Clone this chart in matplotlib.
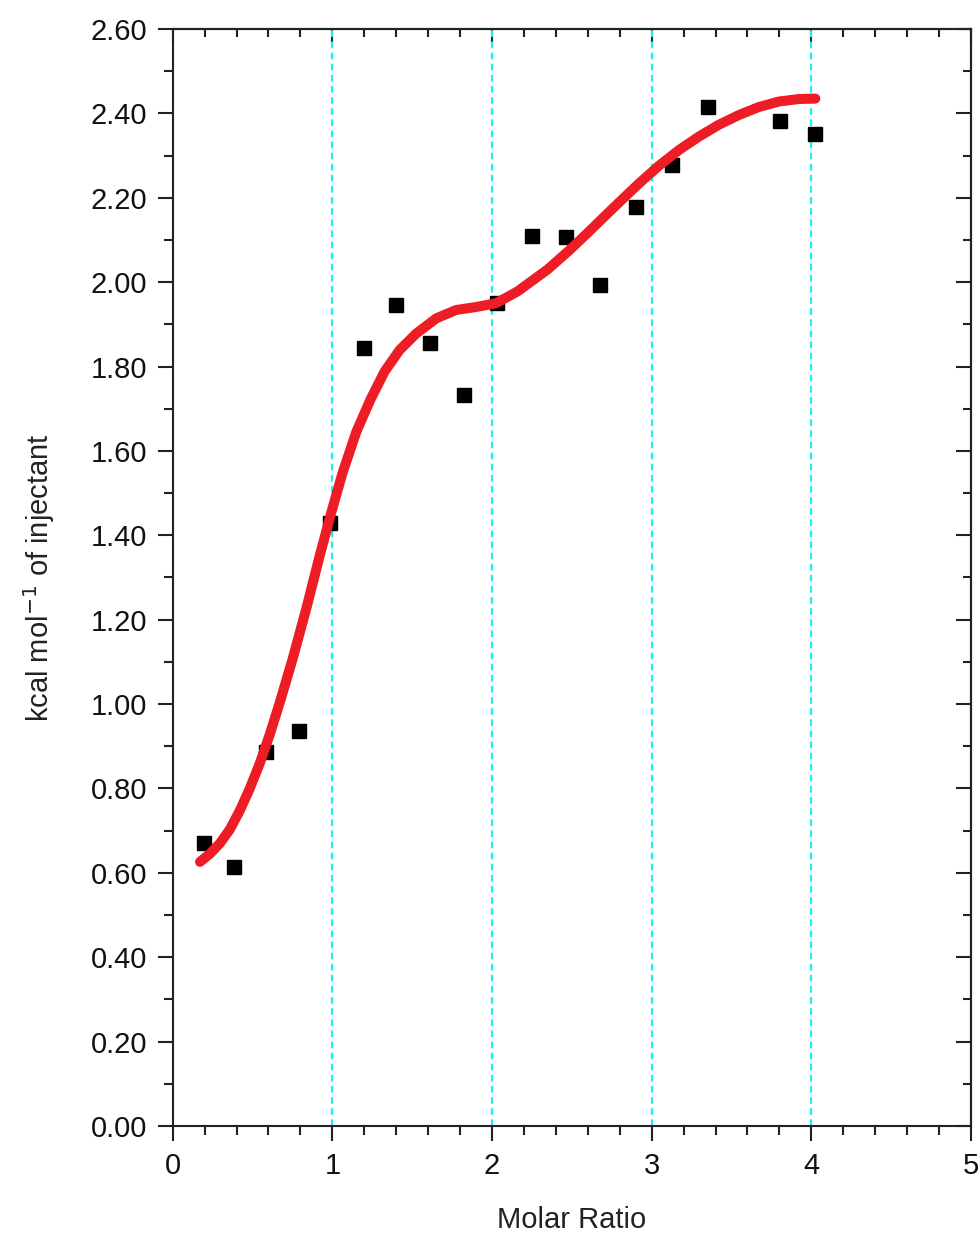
import matplotlib
matplotlib.use('Agg')
import matplotlib.pyplot as plt
from matplotlib.ticker import MultipleLocator, FormatStrFormatter

plt.rcParams['font.family'] = ['Liberation Sans', 'DejaVu Sans']

# Measured injection points
molar_ratio = [0.196, 0.383, 0.583, 0.789, 0.988, 1.196, 1.400, 1.612, 1.823,
               2.033, 2.248, 2.462, 2.675, 2.900, 3.129, 3.350, 3.802, 4.025]
heat = [0.671, 0.614, 0.886, 0.936, 1.430, 1.844, 1.945, 1.855, 1.732,
        1.950, 2.109, 2.107, 1.994, 2.178, 2.277, 2.414, 2.382, 2.350]

# Fitted curve
fit_x = [0.171, 0.233, 0.296, 0.358, 0.421, 0.483, 0.546, 0.608, 0.671, 0.752,
         0.838, 0.921, 0.994, 1.064, 1.150, 1.239, 1.327, 1.421, 1.525, 1.650,
         1.775, 1.900, 2.025, 2.160, 2.348, 2.483, 2.608, 2.700, 2.796, 2.921,
         3.046, 3.171, 3.296, 3.421, 3.546, 3.671, 3.796, 3.921, 4.025]
fit_y = [0.626, 0.645, 0.670, 0.703, 0.748, 0.800, 0.860, 0.928, 1.004, 1.108,
         1.228, 1.352, 1.455, 1.548, 1.645, 1.722, 1.788, 1.839, 1.878, 1.914,
         1.934, 1.941, 1.950, 1.978, 2.030, 2.075, 2.120, 2.154, 2.189, 2.234,
         2.276, 2.313, 2.345, 2.373, 2.396, 2.415, 2.428, 2.434, 2.435]

grid_x = [1, 2, 3, 4]

fig = plt.figure(figsize=(9.79, 12.33), dpi=100)
ax = fig.add_axes([0.1764, 0.0868, 0.8154, 0.8897])

for gx in grid_x:
    ax.axvline(gx, color='#1EF0F0', linestyle=(0, (3, 2)), linewidth=1.6, zorder=1)

ax.plot(molar_ratio, heat, linestyle='none', marker='s', markersize=10.5,
        color='black', zorder=2)
ax.plot(fit_x, fit_y, color='#EE1C25', linewidth=7.2, solid_capstyle='round',
        solid_joinstyle='round', zorder=3)

ax.set_xlim(0, 5)
ax.set_ylim(0, 2.6)
ax.xaxis.set_major_locator(MultipleLocator(1))
ax.xaxis.set_minor_locator(MultipleLocator(0.2))
ax.yaxis.set_major_locator(MultipleLocator(0.2))
ax.yaxis.set_minor_locator(MultipleLocator(0.1))
ax.yaxis.set_major_formatter(FormatStrFormatter('%.2f'))

for sp in ax.spines.values():
    sp.set_linewidth(1.5)
    sp.set_color('#222222')

ax.tick_params(which='both', direction='out', width=1.5, color='#222222',
               labelsize=21, labelcolor='#111111', pad=8)
ax.tick_params(which='major', length=10.5)
ax.tick_params(which='minor', length=6.5)

# top and right axes carry inward ticks without labels
top = ax.secondary_xaxis('top')
top.xaxis.set_major_locator(MultipleLocator(1))
top.xaxis.set_minor_locator(MultipleLocator(0.2))
top.tick_params(which='both', direction='in', width=1.5, color='#222222', labeltop=False)
top.tick_params(which='major', length=10.5)
top.tick_params(which='minor', length=5.5)
top.spines['top'].set_linewidth(1.5)

right = ax.secondary_yaxis('right')
right.yaxis.set_major_locator(MultipleLocator(0.2))
right.yaxis.set_minor_locator(MultipleLocator(0.1))
right.tick_params(which='both', direction='in', width=1.5, color='#222222', labelright=False)
right.tick_params(which='major', length=10.5)
right.tick_params(which='minor', length=5.5)
right.spines['right'].set_linewidth(1.5)

ax.set_xlabel('Molar Ratio', fontsize=21, color='#222222', labelpad=19)
ax.set_ylabel('kcal mol$^{-1}$ of injectant', fontsize=21, color='#222222', labelpad=24)

fig.savefig('out.png', dpi=100, facecolor='white')
